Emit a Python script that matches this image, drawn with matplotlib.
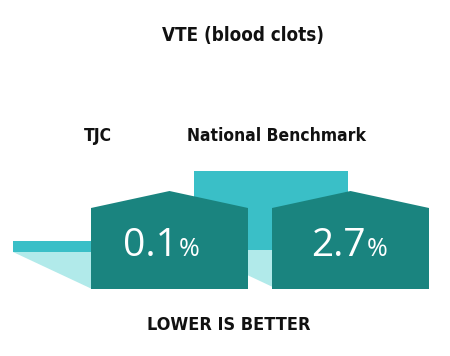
import matplotlib
matplotlib.use("Agg")
import matplotlib.pyplot as plt
from matplotlib.patches import Polygon, Rectangle
from matplotlib import font_manager as fm

# ---- data ----
title = "VTE (blood clots)"
categories = ["TJC", "National Benchmark"]
values = [0.1, 2.7]
value_labels = ["0.1", "2.7"]
footer = "LOWER IS BETTER"

# ---- style / layout ----
DARK = "#1a847f"
CYAN = "#3abfc7"
LIGHT = "#b1eaea"
TXT = "#111111"
NUMF = ["Open Sans", "DejaVu Sans"]


def _stretch_val(s):
    m = {"ultra-condensed": 50, "extra-condensed": 62.5, "condensed": 75, "semi-condensed": 87.5,
         "normal": 100}
    if isinstance(s, str):
        return m.get(s, 100)
    return s


def _weight_val(w):
    if isinstance(w, str):
        return {"bold": 700, "semibold": 600, "demibold": 600, "medium": 500, "normal": 400,
                "regular": 400, "book": 400, "heavy": 800, "black": 900, "extra bold": 800}.get(w, 400)
    return w


cond_path = None
best = None
for f in fm.fontManager.ttflist:
    sv = _stretch_val(f.stretch)
    wv = _weight_val(f.weight)
    nm = f.name.lower()
    is_cond = sv < 100 or "condensed" in nm or "narrow" in nm or "condensed" in f.fname.lower() \
        or "narrow" in f.fname.lower()
    if not is_cond or f.style != "normal":
        continue
    score = abs(wv - 700) + (0 if "sans" in nm else 50) + abs(_stretch_val(f.stretch if sv < 100 else 75) - 75)
    if best is None or score < best[0]:
        best = (score, f.fname)
if best is not None:
    cond_path = best[1]


def cond_props(size):
    if cond_path:
        return fm.FontProperties(fname=cond_path, size=size)
    return fm.FontProperties(family="DejaVu Sans", weight="bold", size=size * 0.82)


W, H = 450, 356
fig = plt.figure(figsize=(W / 100, H / 100), dpi=100)
ax = fig.add_axes([0, 0, 1, 1])
ax.set_xlim(0, W)
ax.set_ylim(H, 0)
ax.axis("off")

house_left = [91, 272]
house_w = 157
bar_w = 154
bar_shift = 78
ground = 289
wall_top = 208
peak = 191
bar_bottom = [252, 250]
label_x = [98, 276.5]
value_cx = [161.5, 349]
slope = 0.47


def bar_px(v):
    # pixel height of the back bar for a value (linear scale)
    return 8.4 + 26.15 * v


for i, v in enumerate(values):
    x0 = house_left[i] - bar_shift
    x1 = x0 + bar_w
    b = bar_bottom[i]
    h = bar_px(v)
    ax.add_patch(Rectangle((x0, b - h), bar_w, h, facecolor=CYAN, edgecolor="none", zorder=1))
    ax.add_patch(Polygon([(x0, b), (x1, b), (x1, ground), (x0 + (ground - b) / slope, ground)],
                         closed=True, facecolor=LIGHT, edgecolor="none", zorder=1))

for i, v in enumerate(values):
    hl = house_left[i]
    hr = hl + house_w
    ax.add_patch(Polygon([(hl, ground), (hl, wall_top), ((hl + hr) / 2, peak), (hr, wall_top), (hr, ground)],
                         closed=True, facecolor=DARK, edgecolor="none", zorder=2))

fig.canvas.draw()
r = fig.canvas.get_renderer()

for i, v in enumerate(values):
    cx = value_cx[i]
    t1 = ax.text(0, 255.5, value_labels[i], fontsize=28, family=NUMF, color="white",
                 ha="left", va="baseline", zorder=3)
    t2 = ax.text(0, 255.5, "%", fontsize=18, family=NUMF, color="white",
                 ha="left", va="baseline", zorder=3)
    w1 = t1.get_window_extent(r).width * 100 / fig.dpi
    w2 = t2.get_window_extent(r).width * 100 / fig.dpi
    gap = 1
    total = w1 + gap + w2
    start = cx - total / 2
    t1.set_x(start)
    t2.set_x(start + w1 + gap)

ax.text(242.5, 36, title, fontproperties=cond_props(13.5), color=TXT, ha="center", va="center")
for i, c in enumerate(categories):
    ax.text(label_x[i], 136, c, fontproperties=cond_props(12.5), color=TXT,
            ha="center", va="center")
ax.text(228.5, 325.5, footer, fontproperties=cond_props(13), color=TXT,
        ha="center", va="center")

fig.savefig("out.png", dpi=100)
